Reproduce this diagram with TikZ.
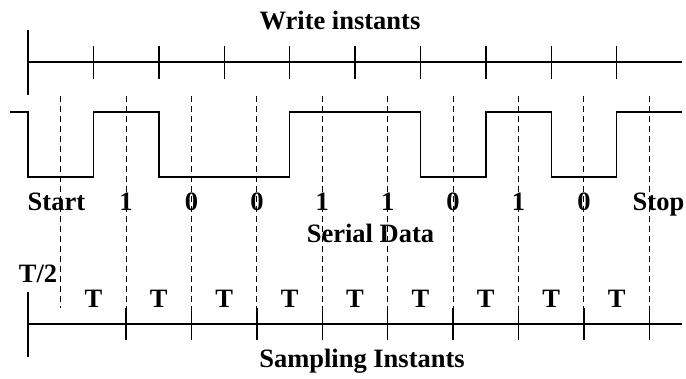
\documentclass[tikz,border=0pt]{standalone}
\usepackage{fontspec}
\setmainfont{Liberation Serif}
\begin{document}
\begin{tikzpicture}[x=1pt,y=-1pt,
  solidline/.style={line width=1.4pt},
  dashline/.style={line width=1pt, dash pattern=on 6pt off 4pt},
  lbl/.style={font=\fontsize{26.5}{30}\selectfont\bfseries, inner sep=0pt, anchor=base}]
\useasboundingbox (0,0) rectangle (686,379);
% top axis: write instants
\draw[solidline] (28,62) -- (682,62);
\draw[solidline] (28,30) -- (28,95);
\foreach \k in {1,...,9} \draw[solidline] ({28+65.4*\k},46) -- ({28+65.4*\k},79);
% serial data waveform
\draw[solidline] (10,112) -- (28,112) -- (28,177) -- (93.4,177) -- (93.4,112)
  -- (158.8,112) -- (158.8,177) -- (289.6,177) -- (289.6,112) -- (420.4,112)
  -- (420.4,177) -- (485.8,177) -- (485.8,112) -- (551.2,112) -- (551.2,177)
  -- (616.6,177) -- (616.6,112) -- (682,112);
% dashed sampling guides
\foreach \k in {0,...,9} \draw[dashline] ({28+65.4*(\k+0.5)},96) -- ({28+65.4*(\k+0.5)},308);
% sampling axis
\draw[solidline] (28,324) -- (682,324);
\draw[solidline] (28,292) -- (28,357);
\foreach \k in {1,...,9} \draw[solidline] ({28+65.4*(\k+0.5)},308) -- ({28+65.4*(\k+0.5)},340);
% labels
\node[lbl] (write) at (340,29.3) {Write instants};
\node[lbl] (start) at (56.4,210.7) {Start};
\foreach \k/\b in {1/1,2/0,3/0,4/1,5/1,6/0,7/1,8/0}
  \node[lbl] (bit\k) at ({28+65.4*(\k+0.5)},210.7) {\b};
\node[lbl] (stop) at (658.5,210.7) {Stop};
\node[lbl] (serial) at (370.5,243) {Serial Data};
\node[lbl] (half) at (38,283) {T/2};
\foreach \k in {1,...,9} \node[lbl] (T\k) at ({28+65.4*\k},307.7) {T};
\node[lbl] (sampling) at (362,367.7) {Sampling Instants};
\end{tikzpicture}
\end{document}
